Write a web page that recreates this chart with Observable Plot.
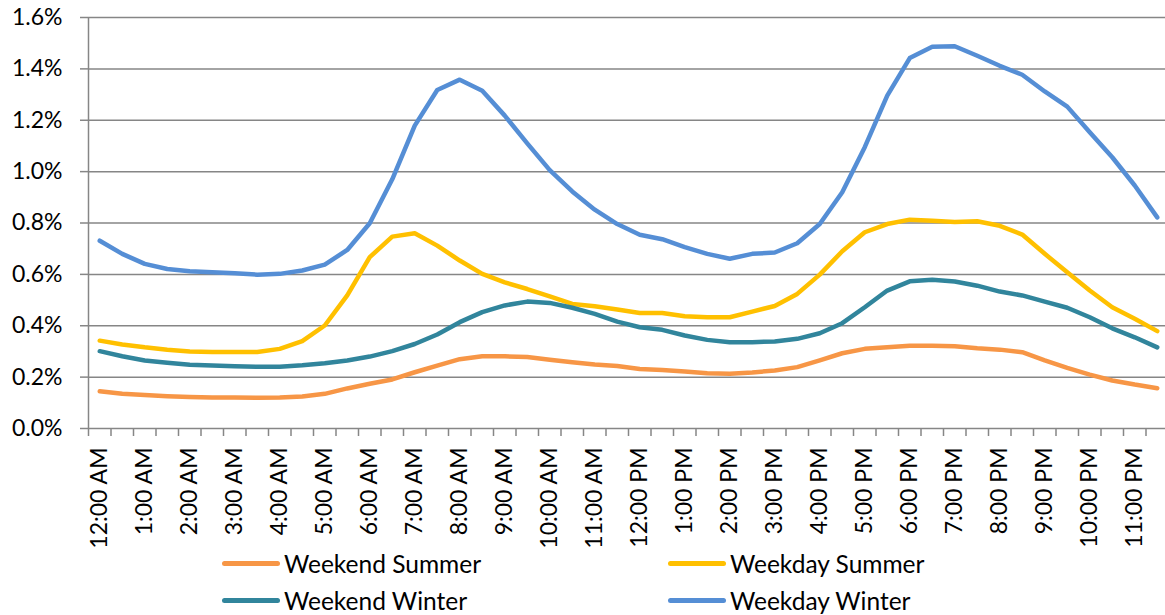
<!DOCTYPE html>
<html>
<head>
<meta charset="utf-8">
<script src="https://cdn.jsdelivr.net/npm/d3@7"></script>
<script src="https://cdn.jsdelivr.net/npm/@observablehq/plot@0.6"></script>
<style>
  html, body { margin: 0; padding: 0; background: #fff; overflow: hidden; }
  #wrap { position: relative; width: 1165px; height: 615px; font-family: Lato, sans-serif; }
  .leg { position: absolute; display: flex; align-items: center; font-size: 24.5px; color: #000; white-space: nowrap; }
  .sw { width: 58px; height: 5px; border-radius: 3px; margin-right: 4px; }
</style>
</head>
<body>
<div id="wrap"></div>
<script>
const hourLabels = ["12:00 AM","1:00 AM","2:00 AM","3:00 AM","4:00 AM","5:00 AM","6:00 AM","7:00 AM","8:00 AM","9:00 AM","10:00 AM","11:00 AM",
  "12:00 PM","1:00 PM","2:00 PM","3:00 PM","4:00 PM","5:00 PM","6:00 PM","7:00 PM","8:00 PM","9:00 PM","10:00 PM","11:00 PM"];
const yTicks = [0, 0.2, 0.4, 0.6, 0.8, 1.0, 1.2, 1.4, 1.6];
const seriesNames = ["Weekend Summer", "Weekday Summer", "Weekend Winter", "Weekday Winter"];
const seriesColors = ["#F79646", "#FFC000", "#31859C", "#558ED5"];

// Half-hourly values (% of daily load), 48 points each
const weekendSummer = [0.145,0.135,0.130,0.126,0.123,0.121,0.121,0.120,0.121,0.125,0.135,0.156,0.174,0.191,0.219,0.245,0.270,0.281,0.281,0.278,0.268,0.258,0.249,0.243,
  0.232,0.228,0.222,0.215,0.213,0.218,0.226,0.239,0.265,0.293,0.310,0.316,0.322,0.322,0.320,0.312,0.307,0.297,0.265,0.236,0.210,0.187,0.171,0.157];
const weekdaySummer = [0.342,0.327,0.316,0.307,0.300,0.298,0.298,0.298,0.310,0.340,0.401,0.518,0.667,0.747,0.760,0.712,0.654,0.602,0.569,0.543,0.514,0.485,0.476,0.463,
  0.450,0.450,0.437,0.433,0.433,0.455,0.477,0.524,0.599,0.690,0.764,0.796,0.813,0.809,0.804,0.807,0.789,0.755,0.680,0.608,0.537,0.472,0.427,0.379];
const weekendWinter = [0.301,0.281,0.265,0.256,0.248,0.245,0.242,0.240,0.240,0.246,0.254,0.265,0.280,0.301,0.329,0.366,0.414,0.453,0.479,0.494,0.489,0.470,0.446,0.416,
  0.394,0.384,0.362,0.345,0.336,0.336,0.339,0.349,0.371,0.410,0.472,0.537,0.573,0.579,0.572,0.556,0.533,0.518,0.494,0.470,0.433,0.390,0.355,0.316];
const weekdayWinter = [0.731,0.680,0.641,0.621,0.612,0.608,0.604,0.599,0.602,0.615,0.638,0.695,0.799,0.970,1.179,1.318,1.358,1.315,1.218,1.110,1.006,0.923,0.852,0.796,
  0.754,0.737,0.706,0.680,0.661,0.680,0.685,0.721,0.796,0.920,1.095,1.296,1.442,1.486,1.488,1.451,1.412,1.377,1.312,1.253,1.153,1.056,0.946,0.822];

const seriesValues = [weekendSummer, weekdaySummer, weekendWinter, weekdayWinter];
const rows = seriesValues.flatMap((vals, s) => vals.map((v, i) => ({series: seriesNames[s], slot: i + 0.5, value: v})));
const labelPos = hourLabels.map((_, k) => 2 * k + 0.5);
const gridColor = "#868686";

const chart = Plot.plot({
  width: 1165,
  height: 545,
  marginLeft: 88,
  marginRight: 0,
  marginTop: 17,
  marginBottom: 117,
  style: {fontFamily: "Lato, sans-serif", fontSize: "23px", color: "#000", background: "#fff", overflow: "visible"},
  x: {domain: [0, 48], range: [88, 1168], label: null},
  y: {domain: [0, 1.6], label: null},
  marks: [
    Plot.ruleY(yTicks, {stroke: gridColor, strokeWidth: 1.5}),
    Plot.ruleX([0], {y1: 0, y2: 1.6, stroke: gridColor, strokeWidth: 1.5}),
    Plot.axisY({ticks: yTicks, tickSize: 8, tickPadding: 18, stroke: gridColor, strokeWidth: 1.5, fill: "#000",
      tickFormat: d => d.toFixed(1) + "%", label: null}),
    Plot.axisX({ticks: d3.range(0, 49), tickSize: 8, tickFormat: () => "", stroke: gridColor, strokeWidth: 1.5, label: null}),
    Plot.axisX({ticks: labelPos, tickSize: 0, tickPadding: 19, tickRotate: -90, fill: "#000",
      tickFormat: d => hourLabels[Math.round((d - 0.5) / 2)], label: null}),
    ...seriesNames.map((name, s) => Plot.line(rows.filter(r => r.series === name), {
      x: "slot", y: "value", stroke: seriesColors[s], strokeWidth: 4.5,
      strokeLinecap: "round", strokeLinejoin: "round"
    }))
  ]
});

const wrap = document.getElementById("wrap");
wrap.appendChild(chart);

const legendPos = [[222, 563], [668, 563], [222, 600], [668, 600]];
seriesNames.forEach((name, s) => {
  const item = document.createElement("div");
  item.className = "leg";
  item.style.left = legendPos[s][0] + "px";
  item.style.top = (legendPos[s][1] - 15) + "px";
  item.style.height = "30px";
  const sw = document.createElement("div");
  sw.className = "sw";
  sw.style.background = seriesColors[s];
  const tx = document.createElement("span");
  tx.textContent = name;
  item.appendChild(sw);
  item.appendChild(tx);
  wrap.appendChild(item);
});
</script>
</body>
</html>
